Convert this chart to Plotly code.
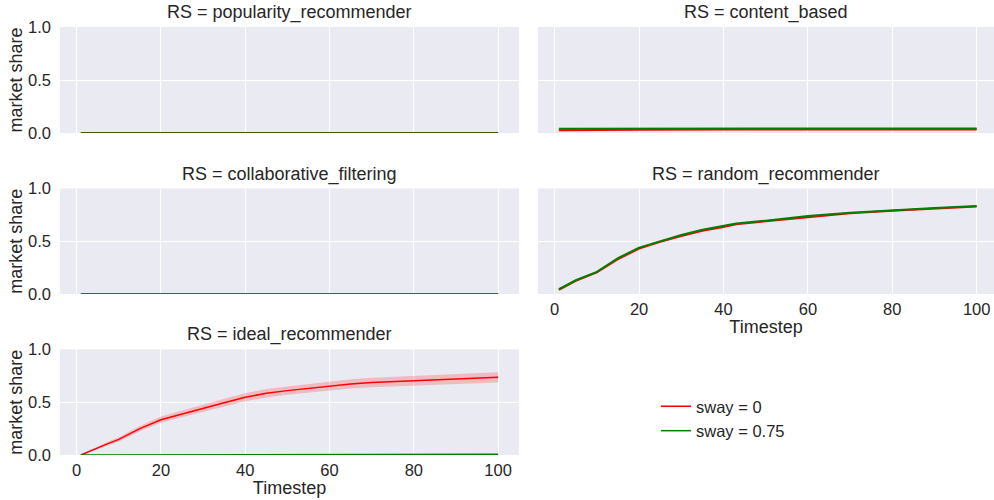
import plotly.graph_objects as go

# ---------------- data ----------------
panels = ["popularity_recommender", "content_based", "collaborative_filtering",
          "random_recommender", "ideal_recommender"]
series_names = ["sway = 0", "sway = 0.75"]
x_ticks = [0, 20, 40, 60, 80, 100]
y_ticks = [0.0, 0.5, 1.0]

t_flat = [1, 10, 20, 40, 60, 80, 100]
pop_red = [0.003, 0.003, 0.003, 0.003, 0.003, 0.003, 0.003]
pop_green = [0.0, 0.0, 0.0, 0.0, 0.0, 0.0, 0.0]
cb_red = [0.027, 0.030, 0.031, 0.032, 0.032, 0.032, 0.032]
cb_green = [0.040, 0.041, 0.041, 0.042, 0.042, 0.042, 0.042]
cf_red = [0.0, 0.0, 0.0, 0.0, 0.0, 0.0, 0.0]
cf_green = [0.0, 0.0, 0.0, 0.0, 0.0, 0.0, 0.0]

t_rand = [1, 5, 10, 15, 20, 25, 30, 35, 40, 43, 50, 60, 70, 80, 90, 100]
rand_red = [0.040, 0.125, 0.205, 0.330, 0.430, 0.495, 0.550, 0.600, 0.635, 0.660,
            0.690, 0.730, 0.765, 0.790, 0.810, 0.830]
rand_green = [0.045, 0.130, 0.210, 0.340, 0.440, 0.500, 0.560, 0.610, 0.648, 0.668,
              0.695, 0.740, 0.770, 0.796, 0.815, 0.834]

t_ideal = [1, 5, 7, 10, 15, 20, 25, 30, 35, 40, 45, 50, 55, 60, 65, 70, 80, 90, 100]
ideal_red = [0.0, 0.070, 0.100, 0.148, 0.250, 0.334, 0.390, 0.440, 0.495, 0.546,
             0.584, 0.609, 0.630, 0.656, 0.672, 0.685, 0.703, 0.720, 0.735]
ideal_red_lo = [0.0, 0.055, 0.082, 0.128, 0.225, 0.304, 0.358, 0.405, 0.458, 0.508,
                0.544, 0.569, 0.588, 0.613, 0.628, 0.640, 0.657, 0.673, 0.687]
ideal_red_hi = [0.005, 0.085, 0.118, 0.168, 0.275, 0.364, 0.422, 0.475, 0.532, 0.584,
                0.624, 0.649, 0.672, 0.699, 0.716, 0.730, 0.749, 0.767, 0.783]
ideal_green = [0.0, 0.0, 0.001, 0.001, 0.002, 0.003, 0.003, 0.004, 0.004, 0.004,
               0.005, 0.005, 0.005, 0.005, 0.005, 0.006, 0.006, 0.006, 0.006]

# ---------------- layout ----------------
W, H = 994, 500
RED = "#ff0000"
GREEN = "#008000"
TXT = "#262626"
BG = "#eaeaf2"
FONT = "Liberation Sans, Arial, sans-serif"
TICK = 16.5
LABEL = 18

col_px = [(60, 519), (538, 994)]
col_range = [[-3.95, 104.95], [-3.95, 104.1]]
row_px = [(27, 133), (188.5, 294), (349.3, 455)]

def xdom(c):
    a, b = col_px[c]
    return [a / W, b / W]

def ydom(r):
    a, b = row_px[r]
    return [1 - b / H, 1 - a / H]

pos = [(0, 0), (0, 1), (1, 0), (1, 1), (2, 0)]
show_xlabels = [False, False, False, True, True]

fig = go.Figure()

data = [
    (t_flat, pop_red, pop_green, None, None, 1.5),
    (t_flat, cb_red, cb_green, None, None, 2),
    (t_flat, cf_red, cf_green, None, None, 1.5),
    (t_rand, rand_red, rand_green, None, None, 2),
    (t_ideal, ideal_red, ideal_green, ideal_red_lo, ideal_red_hi, 1.5),
]

for i, (name, (r, c)) in enumerate(zip(panels, pos)):
    ax = "" if i == 0 else str(i + 1)
    xa, ya = "x" + ax, "y" + ax
    t, red, green, lo, hi, lw = data[i]
    if lo is not None:
        fig.add_trace(go.Scatter(x=t, y=lo, mode="lines", line=dict(width=0),
                                 showlegend=False, hoverinfo="skip", xaxis=xa, yaxis=ya))
        fig.add_trace(go.Scatter(x=t, y=hi, mode="lines", line=dict(width=0),
                                 fill="tonexty", fillcolor="rgba(255,0,0,0.2)",
                                 showlegend=False, hoverinfo="skip", xaxis=xa, yaxis=ya))
    fig.add_trace(go.Scatter(x=t, y=red, mode="lines", line=dict(color=RED, width=lw),
                             name=series_names[0], legendgroup="a",
                             showlegend=(i == 0), xaxis=xa, yaxis=ya))
    fig.add_trace(go.Scatter(x=t, y=green, mode="lines", line=dict(color=GREEN, width=lw),
                             name=series_names[1], legendgroup="b",
                             showlegend=(i == 0), xaxis=xa, yaxis=ya))

    xkw = dict(domain=xdom(c), range=col_range[c], tickvals=x_ticks,
               showticklabels=show_xlabels[i], showgrid=True, gridcolor="white",
               gridwidth=1.2, zeroline=False, showline=False, ticks="",
               tickfont=dict(size=TICK, color=TXT, family=FONT), anchor=ya,
               ticklabelstandoff=3, automargin=False, fixedrange=True)
    if show_xlabels[i]:
        xkw["title"] = dict(text="Timestep", font=dict(size=LABEL, color=TXT, family=FONT),
                            standoff=1)
    ykw = dict(domain=ydom(r), range=[0, 1], tickvals=y_ticks, tickformat=".1f",
               showticklabels=(c == 0), showgrid=True, gridcolor="white",
               gridwidth=1.2, zeroline=False, showline=False, ticks="",
               tickfont=dict(size=TICK, color=TXT, family=FONT), anchor=xa,
               ticklabelstandoff=8, automargin=False, fixedrange=True)
    if c == 0:
        ykw["title"] = dict(text="market share", font=dict(size=LABEL, color=TXT, family=FONT),
                            standoff=0)
    fig.update_layout(**{"xaxis" + ax: xkw, "yaxis" + ax: ykw})

    a, b = col_px[c]
    fig.add_annotation(text="RS = " + name, x=(a + b) / 2 / W, y=1 - (row_px[r][0] - 2) / H,
                       xref="paper", yref="paper", xanchor="center", yanchor="bottom",
                       showarrow=False, font=dict(size=LABEL, color=TXT, family=FONT))

fig.update_layout(
    width=W, height=H,
    margin=dict(l=0, r=0, t=0, b=0),
    paper_bgcolor="white", plot_bgcolor=BG,
    font=dict(family=FONT, color=TXT),
    legend=dict(x=656 / W, y=1 - 389 / H, xanchor="left", yanchor="top",
                bgcolor="rgba(0,0,0,0)", font=dict(size=TICK, color=TXT, family=FONT),
                tracegroupgap=0, itemwidth=30),
    showlegend=True,
)

fig.write_html("out.html", config={"displayModeBar": False},
               post_script="document.body.style.margin='0';")
